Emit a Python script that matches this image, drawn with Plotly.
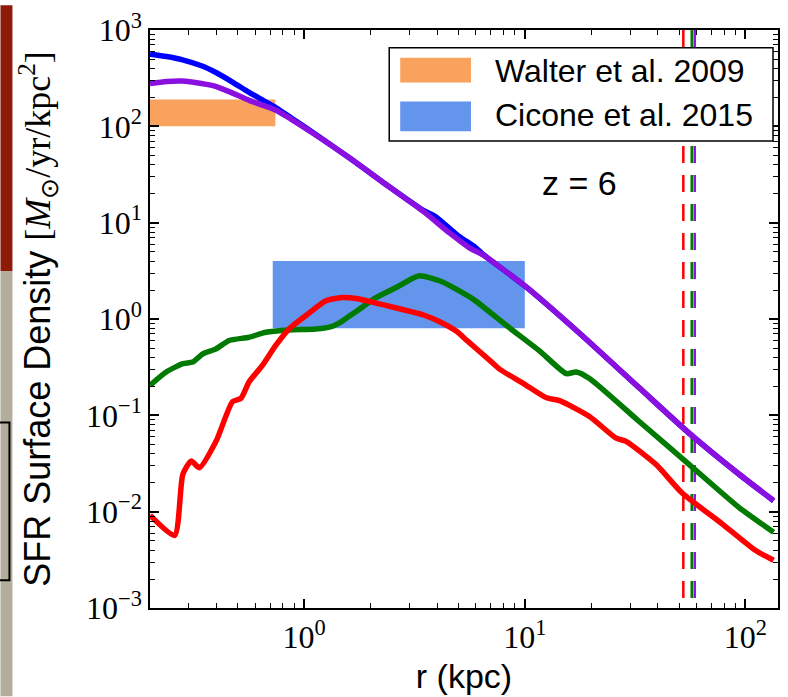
import numpy as np
import plotly.graph_objects as go

# ---------------- data ----------------
r_blue = [0.2, 0.2377, 0.2808, 0.342, 0.3997, 0.477, 0.563, 0.6513, 0.7455, 0.871, 1.129,
          1.624, 2.288, 3.467, 3.93, 5.0, 5.95, 6.466, 10.1, 17.7, 33.0, 55.5, 93.3, 134.2]
sfr_blue = [560, 530, 490, 425, 360, 285, 225, 186, 156, 123, 82,
            46.0, 26.0, 13.4, 11.6, 7.3, 5.58, 4.68, 2.165, 0.711, 0.193, 0.0654, 0.0246, 0.0130]

r_purple = [0.2, 0.2377, 0.2808, 0.342, 0.3997, 0.477, 0.563, 0.6513, 0.7455, 0.871, 1.129,
            1.624, 2.288, 3.467, 4.574, 5.629, 6.466, 10.1, 17.7, 33.0, 55.5, 93.3, 134.2]
sfr_purple = [278, 292, 295, 278, 259, 220, 186, 165, 147, 119, 81.2,
              46.0, 26.0, 13.1, 7.78, 5.45, 4.62, 2.165, 0.711, 0.193, 0.0654, 0.0246, 0.0130]

r_green = [0.2, 0.237, 0.282, 0.3125, 0.347, 0.3985, 0.457, 0.563, 0.67, 0.853, 1.126, 1.338,
           1.463, 1.591, 1.741, 2.07, 2.638, 3.3, 4.137, 5.846, 8.271, 11.69, 15.42, 17.11,
           19.64, 33.0, 55.5, 93.3, 134.2]
sfr_green = [0.205, 0.282, 0.344, 0.357, 0.435, 0.49, 0.598, 0.647, 0.728, 0.769, 0.787, 0.84,
             0.93, 1.06, 1.22, 1.62, 2.15, 2.80, 2.48, 1.60, 0.853, 0.464, 0.271, 0.282,
             0.241, 0.0863, 0.031, 0.0111, 0.00612]

r_red = [0.2, 0.2585, 0.2817, 0.3073, 0.335, 0.3985, 0.4734, 0.5165, 0.563, 0.6465, 0.743, 0.853,
         1.015, 1.249, 1.484, 1.75, 2.07, 2.296, 3.248, 3.478, 4.137, 4.92, 5.458, 6.953, 7.714,
         9.825, 12.53, 14.38, 19.64, 25.92, 28.75, 39.27, 51.8, 78.4, 110.9, 134.2]
sfr_red = [0.0092, 0.00566, 0.0244, 0.0335, 0.0286, 0.0537, 0.1387, 0.15, 0.223, 0.33, 0.531, 0.787,
           1.08, 1.54, 1.67, 1.62, 1.48, 1.40, 1.15, 1.10, 0.93, 0.74, 0.60, 0.37, 0.30,
           0.215, 0.152, 0.142, 0.0973, 0.058, 0.0537, 0.031, 0.0155, 0.00748, 0.00397, 0.00313]

# observational boxes (r range, SFR range)
walter_r = [0.2, 0.74]
walter_sfr = [100, 190]
cicone_r = [0.72, 10.0]
cicone_sfr = [0.8, 4.0]

# virial radii (dashed)
rvir = [52.3, 57.1, 58.9]
rvir_colors = ["#FF0000", "#007A00", "#8B10E0"]

legend_labels = ["Walter et al. 2009", "Cicone et al. 2015"]
redshift_label = "z = 6"

ytick_vals = [1e-3, 1e-2, 1e-1, 1e0, 1e1, 1e2, 1e3]
ytick_text = ["10<sup>−3</sup>", "10<sup>−2</sup>", "10<sup>−1</sup>", "10<sup>0</sup>",
              "10<sup>1</sup>", "10<sup>2</sup>", "10<sup>3</sup>"]
xtick_vals = [1, 10, 100]
xtick_text = ["10<sup>0</sup>", "10<sup>1</sup>", "10<sup>2</sup>"]

# ---------------- colours ----------------
C_ORANGE = "#F9A25E"
C_CBLUE = "#6495ED"
C_BLUE = "#0000FF"
C_PURPLE = "#8B10E0"
C_GREEN = "#007A00"
C_RED = "#FF0000"

fig = go.Figure()


def box(xr, yr, color):
    return go.Scatter(x=[xr[0], xr[1], xr[1], xr[0], xr[0]],
                      y=[yr[0], yr[0], yr[1], yr[1], yr[0]],
                      mode="lines", fill="toself", fillcolor=color,
                      line=dict(width=0, color=color), hoverinfo="skip")


fig.add_trace(box(walter_r, walter_sfr, C_ORANGE))
fig.add_trace(box(cicone_r, cicone_sfr, C_CBLUE))

for rv, col in zip(rvir, rvir_colors):
    fig.add_trace(go.Scatter(x=[rv, rv], y=[1e3, 1e-3], mode="lines",
                             line=dict(color=col, width=2.5, dash="17px,12px")))

for rr, vv, col in [(r_blue, sfr_blue, C_BLUE), (r_green, sfr_green, C_GREEN),
                    (r_red, sfr_red, C_RED), (r_purple, sfr_purple, C_PURPLE)]:
    fig.add_trace(go.Scatter(x=rr, y=vv, mode="lines",
                             line=dict(color=col, width=5.5, shape="spline", smoothing=0.6)))

# minor tick positions
xminor = [m * 10.0 ** e for e in range(-1, 3) for m in range(2, 10)]
yminor = [m * 10.0 ** e for e in range(-3, 3) for m in range(2, 10)]

axis_common = dict(showline=True, linecolor="black", linewidth=1.5, mirror="allticks",
                   ticks="inside", ticklen=9, tickwidth=1.5, tickcolor="black",
                   showgrid=False, zeroline=False,
                   tickfont=dict(family="Liberation Serif", size=32, color="black"))

fig.update_xaxes(type="log", range=[np.log10(0.2), np.log10(140.5)],
                 tickvals=xtick_vals, ticktext=xtick_text,
                 minor=dict(tickvals=xminor, ticks="inside", ticklen=5, tickwidth=1.2,
                            tickcolor="black", showgrid=False),
                 title=dict(text="r (kpc)", font=dict(size=34, family="Liberation Sans"),
                            standoff=10),
                 **axis_common)
fig.update_yaxes(type="log", range=[-3, 3],
                 tickvals=ytick_vals, ticktext=ytick_text,
                 minor=dict(tickvals=yminor, ticks="inside", ticklen=5, tickwidth=1.2,
                            tickcolor="black", showgrid=False),
                 title=dict(text="SFR Surface Density <span style=\"font-family:Liberation Serif\">"
                                 "[<i>M</i><sub>⊙</sub>/yr/kpc<sup>2</sup>]</span>",
                            font=dict(size=36, family="Liberation Sans"), standoff=24),
                 **axis_common)


# ---------------- legend (drawn in paper coords) ----------------
def px_x(p):
    return (p - 150) / 630.0


def px_y(p):
    return (608 - p) / 583.0


shapes = [
    # stray slide background on the left edge of the picture
    dict(type="rect", xref="paper", yref="paper", x0=px_x(0), x1=px_x(12), y0=px_y(268), y1=px_y(0),
         fillcolor="#8E1A08", line=dict(width=0), layer="below"),
    dict(type="rect", xref="paper", yref="paper", x0=px_x(0), x1=px_x(12), y0=px_y(697), y1=px_y(268),
         fillcolor="#B3AE9C", line=dict(width=0), layer="below"),
    dict(type="rect", xref="paper", yref="paper", x0=px_x(-2), x1=px_x(9), y0=px_y(580), y1=px_y(421),
         fillcolor="rgba(0,0,0,0)", line=dict(width=2, color="black"), layer="above"),
    # legend frame
    dict(type="rect", xref="paper", yref="paper", x0=px_x(390), x1=px_x(775), y0=px_y(137), y1=px_y(43),
         fillcolor="white", line=dict(width=1.5, color="black"), layer="above"),
    dict(type="rect", xref="paper", yref="paper", x0=px_x(401), x1=px_x(472), y0=px_y(78), y1=px_y(53),
         fillcolor=C_ORANGE, line=dict(width=0), layer="above"),
    dict(type="rect", xref="paper", yref="paper", x0=px_x(401), x1=px_x(472), y0=px_y(127), y1=px_y(97),
         fillcolor=C_CBLUE, line=dict(width=0), layer="above"),
]
fig.update_layout(shapes=shapes)

annotations = [
    dict(text=legend_labels[0], x=px_x(494), y=px_y(66), xref="paper", yref="paper",
         xanchor="left", yanchor="middle", showarrow=False,
         font=dict(size=32, family="Liberation Sans", color="black")),
    dict(text=legend_labels[1], x=px_x(494), y=px_y(111), xref="paper", yref="paper",
         xanchor="left", yanchor="middle", showarrow=False,
         font=dict(size=32, family="Liberation Sans", color="black")),
    dict(text=redshift_label, x=px_x(581), y=px_y(179), xref="paper", yref="paper",
         xanchor="center", yanchor="middle", showarrow=False,
         font=dict(size=34, family="Liberation Sans", color="black")),
]
fig.update_layout(annotations=annotations)

fig.update_layout(width=788, height=697, margin=dict(l=150, r=8, t=25, b=89),
                  plot_bgcolor="white", paper_bgcolor="white", showlegend=False,
                  font=dict(family="Liberation Sans", color="black"))

fig.write_html("out.html")
